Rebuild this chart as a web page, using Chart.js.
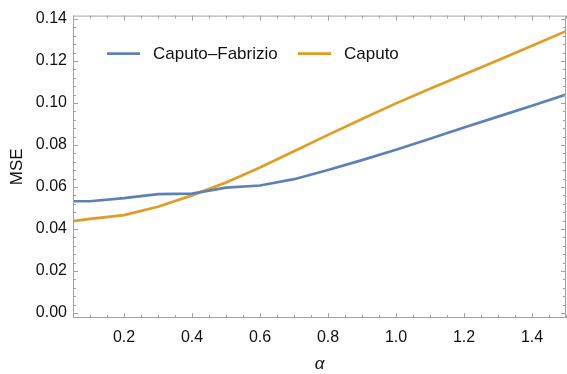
<!DOCTYPE html>
<html>
<head>
<meta charset="utf-8">
<script src="https://cdn.jsdelivr.net/npm/chart.js@4/dist/chart.umd.min.js"></script>
<style>
  html, body { margin: 0; padding: 0; background: #fff; }
  #wrap { width: 567px; height: 374px; }
</style>
</head>
<body>
<div id="wrap"><canvas id="mseChart" width="567" height="374"></canvas></div>
<script>
const alphaValues = [0.05, 0.1, 0.2, 0.3, 0.4, 0.5, 0.6, 0.7, 0.8, 0.9, 1.0, 1.1, 1.2, 1.3, 1.4, 1.5];
const caputoFabrizio = [0.0532, 0.0532, 0.0547, 0.0566, 0.0568, 0.0597, 0.0607, 0.0637, 0.0681, 0.0728, 0.0777, 0.0830, 0.0883, 0.0935, 0.0987, 0.1040];
const caputo = [0.0437, 0.0448, 0.0466, 0.0506, 0.0560, 0.0621, 0.0693, 0.0770, 0.0848, 0.0924, 0.0998, 0.1068, 0.1136, 0.1203, 0.1272, 0.1342];
const xTicks = [0.2, 0.4, 0.6, 0.8, 1.0, 1.2, 1.4];
const yTicks = [0.00, 0.02, 0.04, 0.06, 0.08, 0.10, 0.12, 0.14];
const xMinor = [0.05, 0.1, 0.15, 0.25, 0.3, 0.35, 0.45, 0.5, 0.55, 0.65, 0.7, 0.75, 0.85, 0.9, 0.95, 1.05, 1.1, 1.15, 1.25, 1.3, 1.35, 1.45, 1.5];
const yMinor = [0.004, 0.008, 0.012, 0.016, 0.024, 0.028, 0.032, 0.036, 0.044, 0.048, 0.052, 0.056, 0.064, 0.068, 0.072, 0.076,
                0.084, 0.088, 0.092, 0.096, 0.104, 0.108, 0.112, 0.116, 0.124, 0.128, 0.132, 0.136];

const FONT = '"Liberation Sans", Arial, sans-serif';
const FRAME = '#a2a2a2';

// рамка з тиками всередину, як у Mathematica
const framePlugin = {
    id: 'frame',
    afterDatasetsDraw(chart) {
        const { ctx, chartArea: a, scales: { x, y } } = chart;
        ctx.save();
        ctx.strokeStyle = FRAME;
        ctx.lineWidth = 1;
        ctx.strokeRect(a.left + 0.5, a.top + 0.5, a.right - a.left - 1, a.bottom - a.top - 1);
        const tick = (vals, len, isX) => {
            vals.forEach(v => {
                ctx.beginPath();
                if (isX) {
                    const px = Math.round(x.getPixelForValue(v)) + 0.5;
                    ctx.moveTo(px, a.bottom); ctx.lineTo(px, a.bottom - len);
                    ctx.moveTo(px, a.top); ctx.lineTo(px, a.top + len);
                } else {
                    const py = Math.round(y.getPixelForValue(v)) + 0.5;
                    ctx.moveTo(a.left, py); ctx.lineTo(a.left + len, py);
                    ctx.moveTo(a.right, py); ctx.lineTo(a.right - len, py);
                }
                ctx.stroke();
            });
        };
        tick(xTicks, 5, true);
        tick(xMinor, 3, true);
        tick(yTicks, 5, false);
        tick(yMinor, 3, false);
        ctx.restore();
    }
};

// легенда всередині області графіка
const insideLegend = {
    id: 'insideLegend',
    afterDraw(chart) {
        const { ctx, chartArea: a } = chart;
        const rowY = a.top + 38;
        const starts = [a.left + 34, a.left + 225];
        ctx.save();
        ctx.font = '17px ' + FONT;
        ctx.textBaseline = 'middle';
        chart.data.datasets.forEach((ds, i) => {
            const sx = starts[i];
            ctx.strokeStyle = ds.borderColor;
            ctx.lineWidth = 2.7;
            ctx.beginPath();
            ctx.moveTo(sx, rowY);
            ctx.lineTo(sx + 33, rowY);
            ctx.stroke();
            ctx.fillStyle = '#111';
            ctx.fillText(ds.label, sx + 46, rowY + 1);
        });
        ctx.restore();
    }
};

const toPoints = (xs, ys) => xs.map((v, i) => ({ x: v, y: ys[i] }));

new Chart(document.getElementById('mseChart'), {
    type: 'line',
    data: {
        datasets: [
            { label: 'Caputo\u2013Fabrizio', data: toPoints(alphaValues, caputoFabrizio), borderColor: '#5e81b5', borderWidth: 2.7, pointRadius: 0, tension: 0 },
            { label: 'Caputo', data: toPoints(alphaValues, caputo), borderColor: '#e19c24', borderWidth: 2.7, pointRadius: 0, tension: 0 }
        ]
    },
    options: {
        responsive: false,
        animation: false,
        layout: { padding: { top: 14, right: 1, left: 0, bottom: 0 } },
        plugins: { legend: { display: false }, tooltip: { enabled: false } },
        scales: {
            x: {
                type: 'linear',
                min: 0.05,
                max: 1.5,
                grid: { display: false, drawTicks: false },
                border: { display: false },
                afterBuildTicks: s => { s.ticks = xTicks.map(v => ({ value: v })); },
                afterFit: s => { s.height = 56; },
                ticks: { color: '#111', font: { family: FONT, size: 16 }, padding: 10, maxRotation: 0, autoSkip: false,
                         callback: v => Number(v).toFixed(1) },
                title: { display: true, text: 'α', color: '#111', font: { family: FONT, size: 17, style: 'italic' }, padding: { top: 0, bottom: 0 } }
            },
            y: {
                min: -0.0024,
                max: 0.1416,
                grid: { display: false, drawTicks: false },
                border: { display: false },
                afterBuildTicks: s => { s.ticks = yTicks.map(v => ({ value: v })); },
                afterFit: s => { s.width = 73; },
                ticks: { color: '#111', font: { family: FONT, size: 16 }, padding: 6, autoSkip: false,
                         callback: v => Number(v).toFixed(2) },
                title: { display: true, text: 'MSE', color: '#111', font: { family: FONT, size: 17 }, padding: { top: 7, bottom: 0 } }
            }
        }
    },
    plugins: [framePlugin, insideLegend]
});
</script>
</body>
</html>
